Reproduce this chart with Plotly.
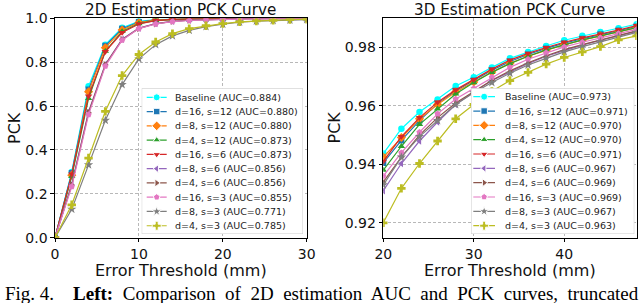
import plotly.graph_objects as go

# ---------------- data ----------------
x2d = [0, 2, 4, 6, 8, 10, 12, 14, 16, 18, 20, 22, 24, 26, 28, 30]
x3d = [20, 22, 24, 26, 28, 30, 32, 34, 36, 38, 40, 42, 44, 46, 48]

names = ["Baseline", "d=16, s=12", "d=8, s=12", "d=4, s=12", "d=16, s=6",
         "d=8, s=6", "d=4, s=6", "d=16, s=3", "d=8, s=3", "d=4, s=3"]
auc2d = ["0.884", "0.880", "0.880", "0.873", "0.873", "0.856", "0.856", "0.855", "0.771", "0.785"]
auc3d = ["0.973", "0.971", "0.970", "0.970", "0.971", "0.967", "0.969", "0.969", "0.967", "0.963"]

pck2d_baseline = [0, 0.30, 0.69, 0.88, 0.957, 0.986, 0.994, 0.997, 0.998, 0.999, 0.999, 1.0, 1.0, 1.0, 1.0, 1.0]
pck2d_d16s12 = [0, 0.295, 0.675, 0.875, 0.952, 0.983, 0.993, 0.996, 0.998, 0.999, 0.999, 0.999, 1.0, 1.0, 1.0, 1.0]
pck2d_d8s12 = [0, 0.285, 0.665, 0.866, 0.947, 0.980, 0.992, 0.996, 0.997, 0.998, 0.999, 0.999, 1.0, 1.0, 1.0, 1.0]
pck2d_d4s12 = [0, 0.28, 0.635, 0.85, 0.94, 0.976, 0.99, 0.995, 0.997, 0.998, 0.999, 0.999, 0.999, 1.0, 1.0, 1.0]
pck2d_d16s6 = [0, 0.29, 0.645, 0.848, 0.935, 0.974, 0.989, 0.995, 0.997, 0.998, 0.999, 0.999, 0.999, 1.0, 1.0, 1.0]
pck2d_d8s6 = [0, 0.245, 0.575, 0.79, 0.905, 0.955, 0.976, 0.986, 0.991, 0.994, 0.996, 0.997, 0.998, 0.998, 0.999, 0.999]
pck2d_d4s6 = [0, 0.24, 0.57, 0.788, 0.903, 0.954, 0.975, 0.986, 0.991, 0.994, 0.996, 0.997, 0.998, 0.998, 0.999, 0.999]
pck2d_d16s3 = [0, 0.233, 0.561, 0.782, 0.90, 0.953, 0.974, 0.985, 0.990, 0.993, 0.995, 0.996, 0.997, 0.998, 0.998, 0.999]
pck2d_d8s3 = [0, 0.13, 0.332, 0.535, 0.698, 0.815, 0.88, 0.92, 0.945, 0.962, 0.973, 0.982, 0.987, 0.990, 0.992, 0.994]
pck2d_d4s3 = [0, 0.15, 0.363, 0.576, 0.739, 0.835, 0.892, 0.93, 0.953, 0.966, 0.976, 0.984, 0.988, 0.991, 0.994, 0.996]

pck3d_baseline = [0.9437, 0.9522, 0.9579, 0.9622, 0.9668, 0.9698, 0.9732, 0.9763, 0.9785, 0.9805, 0.9825, 0.9840, 0.9853, 0.9866, 0.9880]
pck3d_d16s12 = [0.9405, 0.9482, 0.9550, 0.9608, 0.9652, 0.9687, 0.9722, 0.9752, 0.9776, 0.9797, 0.9815, 0.9830, 0.9845, 0.9858, 0.9872]
pck3d_d8s12 = [0.9425, 0.9492, 0.9556, 0.9605, 0.9648, 0.9682, 0.9716, 0.9746, 0.9770, 0.9790, 0.9810, 0.9825, 0.9840, 0.9853, 0.9868]
pck3d_d4s12 = [0.9380, 0.9462, 0.9537, 0.9590, 0.9641, 0.9680, 0.9715, 0.9745, 0.9770, 0.9792, 0.9810, 0.9826, 0.9840, 0.9854, 0.9868]
pck3d_d16s6 = [0.9410, 0.9495, 0.9560, 0.9613, 0.9655, 0.9690, 0.9726, 0.9757, 0.9780, 0.9800, 0.9818, 0.9833, 0.9846, 0.9860, 0.9875]
pck3d_d8s6 = [0.9310, 0.9403, 0.9480, 0.9545, 0.9605, 0.9648, 0.9687, 0.9715, 0.9745, 0.9770, 0.9790, 0.9808, 0.9825, 0.9840, 0.9855]
pck3d_d4s6 = [0.9340, 0.9425, 0.9500, 0.9560, 0.9610, 0.9650, 0.9688, 0.9720, 0.9748, 0.9772, 0.9793, 0.9810, 0.9826, 0.9842, 0.9857]
pck3d_d16s3 = [0.9360, 0.9440, 0.9510, 0.9573, 0.9624, 0.9660, 0.9698, 0.9732, 0.9760, 0.9782, 0.9802, 0.9818, 0.9833, 0.9848, 0.9862]
pck3d_d8s3 = [0.9330, 0.9425, 0.9495, 0.9550, 0.9605, 0.9645, 0.9680, 0.9712, 0.9740, 0.9763, 0.9785, 0.9803, 0.9820, 0.9836, 0.9852]
pck3d_d4s3 = [0.9200, 0.9318, 0.9403, 0.9480, 0.9556, 0.9605, 0.9650, 0.9687, 0.9715, 0.9743, 0.9766, 0.9785, 0.9803, 0.9826, 0.9840]

series2d = [pck2d_baseline, pck2d_d16s12, pck2d_d8s12, pck2d_d4s12, pck2d_d16s6,
            pck2d_d8s6, pck2d_d4s6, pck2d_d16s3, pck2d_d8s3, pck2d_d4s3]
series3d = [pck3d_baseline, pck3d_d16s12, pck3d_d8s12, pck3d_d4s12, pck3d_d16s6,
            pck3d_d8s6, pck3d_d4s6, pck3d_d16s3, pck3d_d8s3, pck3d_d4s3]

x2d_ticks = [0, 10, 20, 30]
y2d_ticks = [0.0, 0.2, 0.4, 0.6, 0.8, 1.0]
x3d_ticks = [20, 30, 40]
y3d_ticks = [0.92, 0.94, 0.96, 0.98]

# ---------------- styles ----------------
colors = ["#00ffff", "#1f77b4", "#ff7f0e", "#2ca02c", "#d62728",
          "#9467bd", "#8c564b", "#e377c2", "#7f7f7f", "#bcbd22"]
symbols = ["circle", "square", "diamond", "triangle-up", "triangle-down",
           "triangle-left", "triangle-right", "pentagon", "star", "cross"]
msizes = [6.5, 6, 7, 6.5, 6.5, 6.5, 6.5, 6.5, 7, 7]

W, H = 640, 303
FONT = "DejaVu Sans"
TXT = "#111111"


def px(x):
    return x / W


def py(y):
    return 1 - y / H


# plot areas in pixels
L1, R1 = 55.0, 306.7
L2, R2 = 383.3, 636.6
TOP, BOT = 18.3, 237.7
# legend boxes in pixels: (left, top, right, bottom)
LEG1 = (141.7, 88.3, 303.0, 234.0)
LEG2 = (471.0, 88.3, 634.3, 234.0)

fig = go.Figure()

for i in range(10):
    fig.add_trace(go.Scatter(
        x=x2d, y=series2d[i], mode="lines+markers", xaxis="x", yaxis="y",
        line=dict(color=colors[i], width=1.2),
        marker=dict(symbol=symbols[i], size=msizes[i], color=colors[i]),
        showlegend=False, name=names[i]))
for i in range(10):
    fig.add_trace(go.Scatter(
        x=x3d, y=series3d[i], mode="lines+markers", xaxis="x2", yaxis="y2",
        line=dict(color=colors[i], width=1.2),
        marker=dict(symbol=symbols[i], size=msizes[i], color=colors[i]),
        showlegend=False, name=names[i]))

# custom legends (matplotlib style) on helper subplots x3y3 and x4y4
annotations = []
shapes = []
for leg, xa, ya, aucs, row0, gap, s0, s1, tx in [
        (LEG1, "x3", "y3", auc2d, 9.0, 14.27, 5.0, 25.0, 31.6),
        (LEG2, "x4", "y4", auc3d, 8.4, 14.33, 2.3, 24.0, 31.7)]:
    lw = leg[2] - leg[0]
    lh = leg[3] - leg[1]
    shapes.append(dict(type="rect", xref=xa, yref=ya, x0=0, x1=lw, y0=0, y1=lh,
                       fillcolor="rgba(255,255,255,0.8)",
                       line=dict(color="#cccccc", width=1), layer="below"))
    for i in range(10):
        yy = row0 + gap * i
        fig.add_trace(go.Scatter(
            x=[s0, (s0 + s1) / 2, s1], y=[yy, yy, yy], mode="lines+markers",
            xaxis=xa, yaxis=ya, showlegend=False, hoverinfo="skip",
            line=dict(color=colors[i], width=1.2),
            marker=dict(symbol=symbols[i], size=[0, msizes[i] + 0.5, 0],
                        color=colors[i], opacity=1)))
        annotations.append(dict(
            xref=xa, yref=ya, x=tx, y=yy, xanchor="left", yanchor="middle",
            text=f"{names[i]} (AUC={aucs[i]})", showarrow=False,
            font=dict(family=FONT, size=9.5, color="#222222")))

# titles and axis labels
title_font = dict(family=FONT, size=16, color=TXT)
head_font = dict(family=FONT, size=15.2, color=TXT)
for cx, t in [((L1 + R1) / 2, "2D Estimation PCK Curve"), ((L2 + R2) / 2, "3D Estimation PCK Curve")]:
    annotations.append(dict(xref="paper", yref="paper", x=px(cx), y=1.0,
                            xanchor="center", yanchor="top", yshift=1,
                            text=t, showarrow=False, font=head_font))
    annotations.append(dict(xref="paper", yref="paper", x=px(cx), y=py(258.5),
                            xanchor="center", yanchor="top",
                            text="Error Threshold (mm)", showarrow=False, font=title_font))
for cx in [14.0, 333.5]:
    annotations.append(dict(xref="paper", yref="paper", x=px(cx), y=py((TOP + BOT) / 2),
                            xanchor="center", yanchor="middle", textangle=-90,
                            text="PCK", showarrow=False, font=title_font))

# caption (cut at the bottom of the image)
sp = "&nbsp; "
caption = ("Fig. 4." + "&nbsp;&nbsp;&nbsp; " + "<b>Left:</b>" + sp +
           sp.join(["Comparison", "of", "2D", "estimation", "AUC", "and", "PCK", "curves,", "truncated"]))
annotations.append(dict(xref="paper", yref="paper", x=px(3), y=py(280.5),
                        xanchor="left", yanchor="top",
                        text=caption, showarrow=False,
                        font=dict(family="Liberation Serif", size=19, color="black")))

grid = dict(showgrid=True, gridcolor="#b8b8b8", gridwidth=1, griddash="3px,2px")
axis_common = dict(showline=True, mirror=True, linecolor="black", linewidth=1.3,
                   ticks="outside", ticklen=3.5, tickwidth=1.1, tickcolor="black",
                   tickfont=dict(family=FONT, size=14, color=TXT),
                   zeroline=False, fixedrange=True, automargin=False, **grid)

ydom = [py(BOT), py(TOP)]
hidden = dict(visible=False, fixedrange=True, automargin=False, showgrid=False, zeroline=False)
layout = dict(
    template="none",
    width=W, height=H, autosize=False,
    margin=dict(l=0, r=0, t=0, b=0, pad=0),
    paper_bgcolor="white", plot_bgcolor="white",
    showlegend=False,
    xaxis=dict(domain=[px(L1), px(R1)], range=[0, 30], tickvals=x2d_ticks,
               anchor="y", **axis_common),
    yaxis=dict(domain=ydom, range=[0, 1], tickvals=y2d_ticks, tickformat=".1f",
               anchor="x", **axis_common),
    xaxis2=dict(domain=[px(L2), px(R2)], range=[20, 48], tickvals=x3d_ticks,
                anchor="y2", **axis_common),
    yaxis2=dict(domain=ydom, range=[0.9149, 0.990], tickvals=y3d_ticks, tickformat=".2f",
                anchor="x2", **axis_common),
    xaxis3=dict(domain=[px(LEG1[0]), px(LEG1[2])], range=[0, LEG1[2] - LEG1[0]],
                anchor="y3", **hidden),
    yaxis3=dict(domain=[py(LEG1[3]), py(LEG1[1])], range=[LEG1[3] - LEG1[1], 0],
                anchor="x3", **hidden),
    xaxis4=dict(domain=[px(LEG2[0]), px(LEG2[2])], range=[0, LEG2[2] - LEG2[0]],
                anchor="y4", **hidden),
    yaxis4=dict(domain=[py(LEG2[3]), py(LEG2[1])], range=[LEG2[3] - LEG2[1], 0],
                anchor="x4", **hidden),
    annotations=annotations,
    shapes=shapes,
)
fig.update_layout(**layout)

fig.write_html("out.html", config={"displayModeBar": False},
               post_script="document.body.style.margin='0';document.body.style.overflow='hidden';")
